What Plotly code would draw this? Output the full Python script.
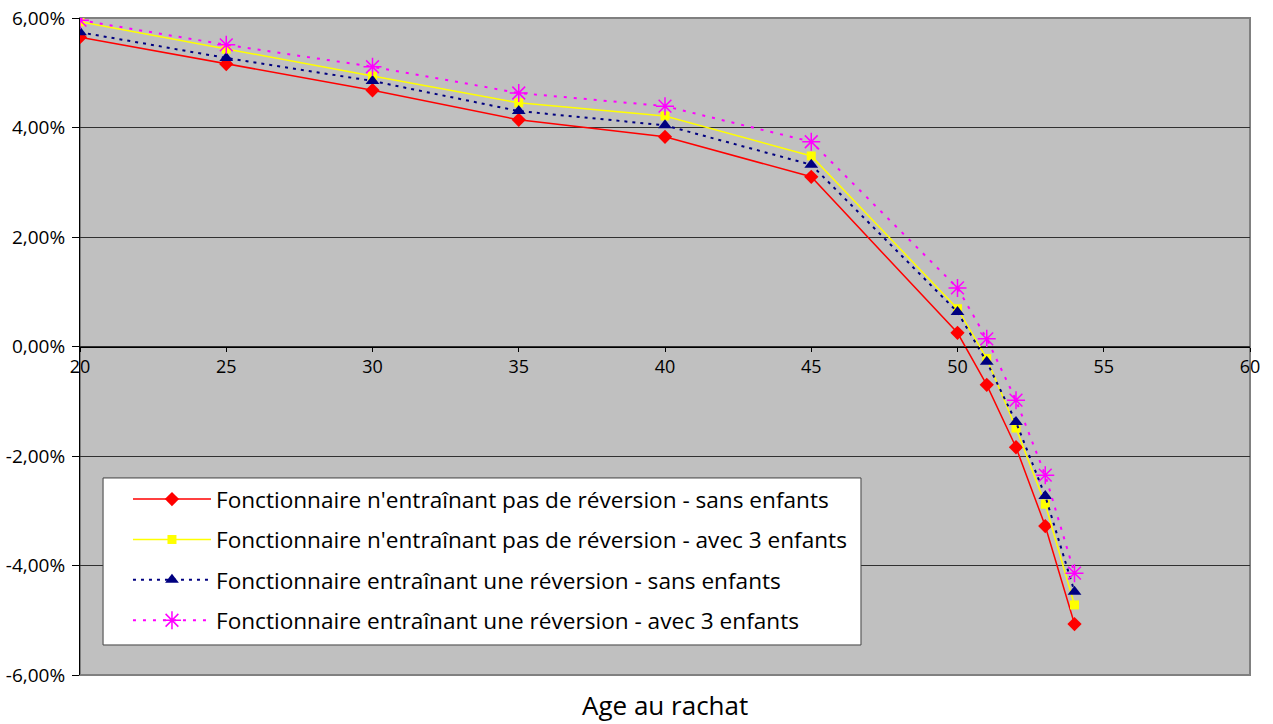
import plotly.graph_objects as go

ages = [20, 25, 30, 35, 40, 45, 50, 51, 52, 53, 54]

sans_rev_sans_enf = [5.65, 5.16, 4.68, 4.14, 3.83, 3.10, 0.25, -0.70, -1.84, -3.28, -5.07]
sans_rev_3_enf = [5.93, 5.43, 4.94, 4.45, 4.21, 3.48, 0.69, -0.22, -1.49, -2.88, -4.72]
rev_sans_enf = [5.74, 5.27, 4.85, 4.30, 4.04, 3.32, 0.63, -0.28, -1.38, -2.73, -4.48]
rev_3_enf = [5.96, 5.51, 5.11, 4.63, 4.39, 3.74, 1.07, 0.14, -0.98, -2.35, -4.14]

names = [
    "Fonctionnaire n'entraînant pas de réversion - sans enfants",
    "Fonctionnaire n'entraînant pas de réversion - avec 3 enfants",
    "Fonctionnaire entraînant une réversion - sans enfants",
    "Fonctionnaire entraînant une réversion - avec 3 enfants",
]

y_ticks = [-6, -4, -2, 0, 2, 4, 6]
y_labels = ["-6,00%", "-4,00%", "-2,00%", "0,00%", "2,00%", "4,00%", "6,00%"]
x_ticks = [20, 25, 30, 35, 40, 45, 50, 55, 60]

FONT = "Open Sans"

fig = go.Figure()

fig.add_trace(go.Scatter(
    x=ages, y=sans_rev_sans_enf, name=names[0], mode="lines+markers",
    line=dict(color="#FF0000", width=1.5),
    marker=dict(symbol="diamond", size=11, color="#FF0000"),
    legendgroup="a",
))
fig.add_trace(go.Scatter(
    x=ages, y=sans_rev_3_enf, name=names[1], mode="lines+markers",
    line=dict(color="#FFFF00", width=1.5),
    marker=dict(symbol="square", size=9, color="#FFFF00"),
    legendgroup="b",
))
fig.add_trace(go.Scatter(
    x=ages, y=rev_sans_enf, name=names[2], mode="lines+markers",
    line=dict(color="#000080", width=2, dash="3px,5px"),
    marker=dict(symbol="triangle-up", size=12, color="#000080"),
    legendgroup="c",
))
fig.add_trace(go.Scatter(
    x=ages, y=rev_3_enf, name=names[3], mode="lines+markers",
    line=dict(color="#FF00FF", width=2, dash="3px,7px"),
    marker=dict(symbol="asterisk-open", size=15, color="#FF00FF",
                line=dict(color="#FF00FF", width=1.5)),
    legendgroup="d",
))

fig.update_layout(
    width=1273, height=724,
    margin=dict(l=80, r=23, t=18, b=49, autoexpand=False),
    paper_bgcolor="white",
    plot_bgcolor="#C0C0C0",
    font=dict(family=FONT, color="black", size=18),
    showlegend=True,
    legend=dict(
        x=0.041, y=0.300, xanchor="left", yanchor="top",
        bgcolor="rgba(0,0,0,0)", borderwidth=0,
        font=dict(family=FONT, size=22.6, color="black"),
        itemwidth=78, tracegroupgap=8,
    ),
    xaxis=dict(
        range=[20, 60], tickvals=x_ticks, showgrid=False, zeroline=False,
        anchor="free", position=0.5, automargin=False,
        showline=True, linecolor="black", linewidth=1,
        ticks="outside", ticklen=4, tickcolor="black",
        tickfont=dict(family=FONT, size=18),
    ),
    yaxis=dict(
        range=[-6, 6], tickvals=y_ticks, ticktext=y_labels, automargin=False,
        showgrid=True, gridcolor="#303030", gridwidth=1,
        zeroline=False, showline=True, linecolor="black", linewidth=1,
        ticks="outside", ticklen=7, tickcolor="black",
        ticklabelstandoff=3,
        tickfont=dict(family=FONT, size=19),
    ),
    shapes=[
        dict(type="rect", xref="paper", yref="paper", x0=0, x1=1, y0=0, y1=1,
             line=dict(color="#808080", width=2), layer="below"),
        dict(type="rect", xref="paper", yref="paper",
             x0=0.0197, x1=0.6675, y0=0.0457, y1=0.2999,
             fillcolor="white", line=dict(color="#404040", width=1), layer="above"),
    ],
    annotations=[dict(text="Age au rachat", xref="paper", yref="paper",
                      x=0.5, y=-0.0457, xanchor="center", yanchor="middle",
                      showarrow=False, font=dict(family=FONT, size=26))],
)

fig.write_html("out.html")
